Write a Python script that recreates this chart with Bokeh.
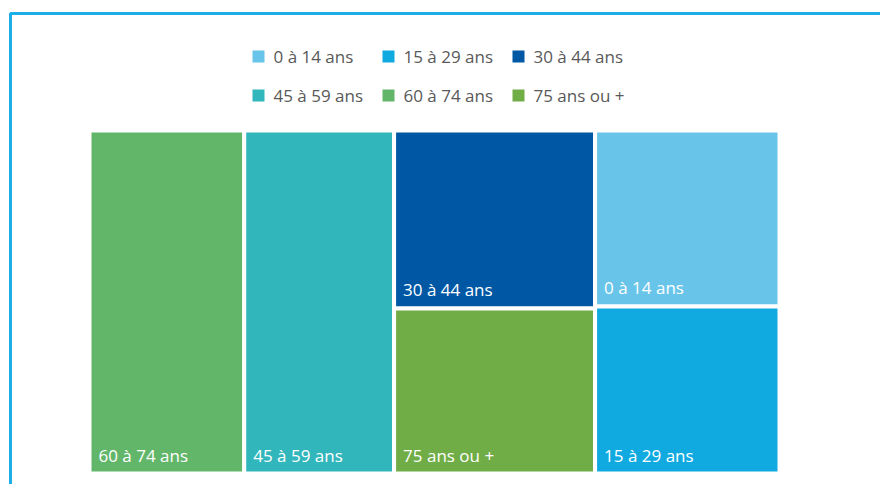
from bokeh.plotting import figure
from bokeh.models import Range1d, ColumnDataSource
from bokeh.core.properties import value
from bokeh.embed import file_html
from bokeh.resources import INLINE

# --- data ---
categories = ["0 à 14 ans", "15 à 29 ans", "30 à 44 ans", "45 à 59 ans", "60 à 74 ans", "75 ans ou +"]
shares = [13.7, 13.0, 15.1, 21.7, 22.4, 14.0]
colors = ["#69C4E9", "#10AAE1", "#0058A5", "#31B6BB", "#62B66A", "#70AD47"]
# treemap columns (indices into categories), left to right, top to bottom
columns = [[4], [3], [2, 5], [0, 1]]

W, H = 880, 484
p = figure(width=W, height=H, output_backend="svg", toolbar_location=None,
           x_range=Range1d(0, W), y_range=Range1d(H, 0), min_border=0)
p.axis.visible = False
p.grid.visible = False
p.outline_line_color = None
p.background_fill_color = "white"
p.border_fill_color = "white"

# frame border
p.quad(left=[10], right=[W + 20], top=[13], bottom=[H + 20], fill_alpha=0,
       line_color="#1BAEE8", line_width=3)

# treemap layout (region in plot pixels)
X0, X1, Y0, Y1 = 89, 779, 130, 473
total = sum(shares)
lefts, rights, tops, bottoms, cols, labs = [], [], [], [], [], []
x = X0
for grp in columns:
    gsum = sum(shares[i] for i in grp)
    w = (X1 - X0) * gsum / total
    y = Y0
    for i in grp:
        h = (Y1 - Y0) * shares[i] / gsum
        lefts.append(x); rights.append(x + w); tops.append(y); bottoms.append(y + h)
        cols.append(colors[i]); labs.append(categories[i])
        y += h
    x += w

src = ColumnDataSource(dict(left=lefts, right=rights, top=tops, bottom=bottoms,
                            color=cols, label=labs,
                            lx=[l + 9 for l in lefts], ly=[b - 7 for b in bottoms]))
p.quad(left="left", right="right", top="top", bottom="bottom", source=src,
       fill_color="color", line_color="white", line_width=4)
p.text(x="lx", y="ly", text="label", source=src, text_color="white",
       text_font=value("Open Sans"), text_font_size="17px",
       text_baseline="bottom", text_align="left")

# legend
lg_sx = [252 + 130 * (i % 3) for i in range(len(categories))]
lg_sy = [56 + 39 * (i // 3) for i in range(len(categories))]
lsrc = ColumnDataSource(dict(sx=[s + 6 for s in lg_sx], sy=lg_sy, tx=[s + 21 for s in lg_sx],
                             color=colors, label=categories))
p.rect(x="sx", y="sy", width=12, height=12, source=lsrc, fill_color="color", line_color=None)
p.text(x="tx", y="sy", text="label", source=lsrc, text_color="#595959",
       text_font=value("Open Sans"), text_font_size="17px",
       text_baseline="middle", text_align="left")

open("out.html", "w").write(file_html(p, INLINE))
